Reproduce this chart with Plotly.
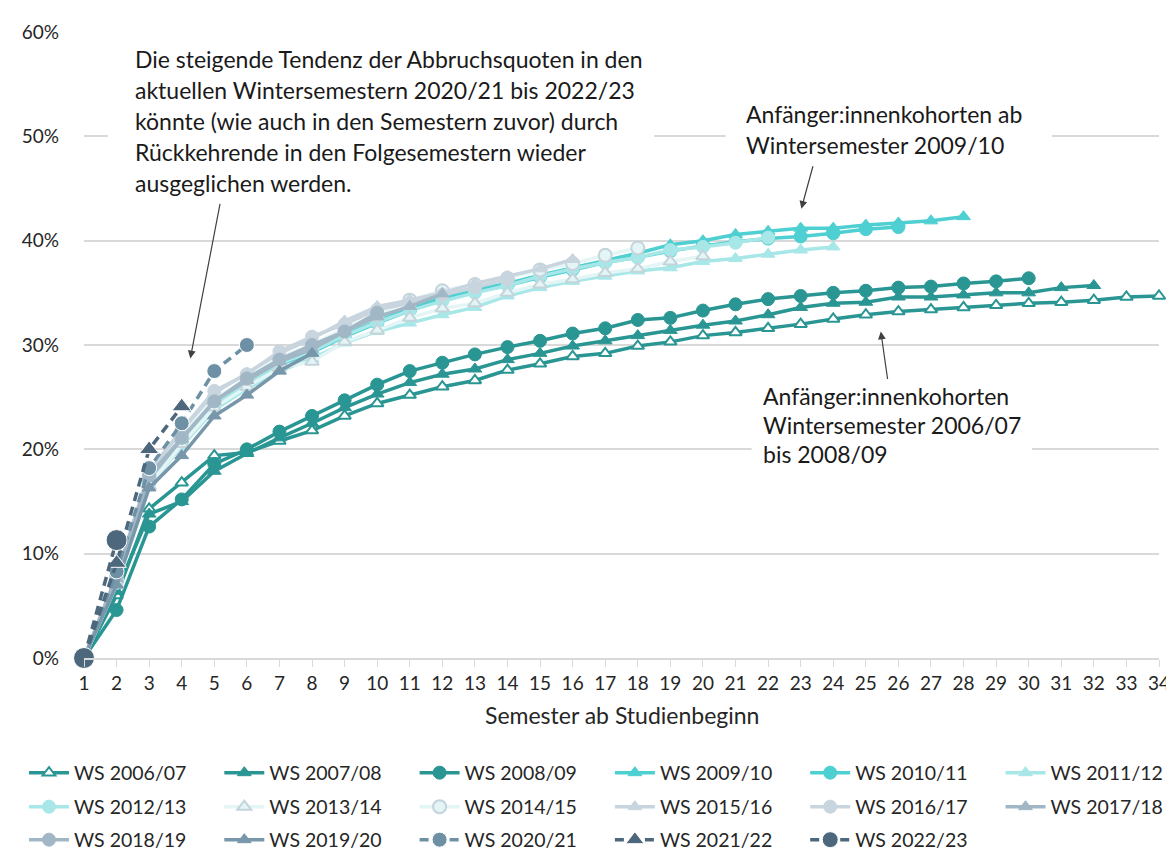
import plotly.graph_objects as go

semester = list(range(1, 35))

# Abbruchquoten in % je Semester ab Studienbeginn
ws_2006_07 = [0, 6.0, 14.3, 16.8, 19.4, 19.7, 20.8, 21.8, 23.2, 24.4, 25.2, 26.0, 26.6, 27.6, 28.2, 28.9, 29.2,
              29.9, 30.3, 30.9, 31.2, 31.6, 32.0, 32.5, 32.9, 33.2, 33.4, 33.6, 33.8, 34.0, 34.1, 34.3, 34.6, 34.7]
ws_2007_08 = [0, 6.4, 13.8, 15.0, 17.9, 19.6, 21.1, 22.5, 24.0, 25.3, 26.4, 27.2, 27.7, 28.6, 29.2, 29.9, 30.4,
              30.9, 31.4, 31.9, 32.3, 32.9, 33.6, 34.0, 34.1, 34.6, 34.6, 34.8, 35.0, 35.0, 35.5, 35.7]
ws_2008_09 = [0, 4.6, 12.6, 15.2, 18.6, 20.0, 21.7, 23.2, 24.7, 26.2, 27.5, 28.3, 29.1, 29.8, 30.4, 31.1, 31.6,
              32.4, 32.6, 33.3, 33.9, 34.4, 34.7, 35.0, 35.2, 35.5, 35.6, 35.9, 36.1, 36.4]
ws_2009_10 = [0, 7.5, 17.0, 21.0, 24.5, 26.5, 28.3, 29.5, 31.0, 32.3, 33.5, 34.5, 35.3, 35.9, 36.7, 37.4, 38.1,
              38.8, 39.6, 40.0, 40.6, 40.9, 41.2, 41.2, 41.5, 41.7, 41.9, 42.3]
ws_2010_11 = [0, 7.3, 16.8, 20.8, 24.3, 26.3, 28.1, 29.3, 30.8, 32.1, 33.3, 34.3, 35.1, 35.7, 36.5, 37.2, 37.9,
              38.4, 39.0, 39.5, 39.9, 40.2, 40.4, 40.7, 41.1, 41.3]
ws_2011_12 = [0, 7.0, 16.5, 20.3, 23.8, 25.8, 27.5, 28.7, 30.2, 31.3, 32.1, 32.9, 33.6, 34.7, 35.5, 36.1, 36.6,
              37.1, 37.4, 38.0, 38.3, 38.7, 39.1, 39.4]
ws_2012_13 = [0, 7.2, 16.9, 20.9, 24.4, 26.4, 28.2, 29.4, 30.9, 32.2, 33.3, 34.2, 35.0, 35.7, 36.6, 37.3, 37.9,
              38.4, 39.1, 39.4, 39.8, 40.3]
ws_2013_14 = [0, 7.0, 16.5, 20.5, 24.0, 26.0, 27.8, 28.4, 30.3, 31.4, 32.6, 33.5, 34.0, 35.0, 35.8, 36.3, 36.9,
              37.3, 38.0, 38.5]
ws_2014_15 = [0, 7.5, 17.3, 21.3, 24.8, 26.8, 28.8, 30.0, 31.6, 32.9, 34.3, 35.2, 35.8, 36.4, 37.2, 37.8, 38.6, 39.3]
ws_2015_16 = [0, 7.8, 17.8, 21.8, 25.4, 27.3, 29.2, 30.6, 32.3, 33.7, 34.3, 35.0, 35.9, 36.6, 37.3, 38.2]
ws_2016_17 = [0, 7.8, 17.9, 21.9, 25.6, 27.2, 29.4, 30.8, 32.0, 33.4, 34.0, 34.8, 35.5, 36.3]
ws_2017_18 = [0, 7.6, 17.2, 21.0, 24.6, 26.6, 28.4, 29.6, 31.3, 32.7, 33.7, 34.9]
ws_2018_19 = [0, 7.9, 17.5, 21.1, 24.6, 26.8, 28.6, 30.0, 31.3, 33.1]
ws_2019_20 = [0, 7.0, 16.3, 19.4, 23.2, 25.2, 27.5, 29.2]
ws_2020_21 = [0, 8.3, 18.2, 22.5, 27.5, 30.0]
ws_2021_22 = [0, 9.1, 20.0, 24.1]
ws_2022_23 = [0, 11.3]

y_ticks = [0, 10, 20, 30, 40, 50, 60]
y_tick_labels = ["0%", "10%", "20%", "30%", "40%", "50%", "60%"]

teal = "#2A9694"
turq = "#4ECFD1"
light_turq = "#A8E7E8"
pale = "#E4F5F6"
pale_edge = "#C5D3DB"
light_grey = "#C8D5DE"
grey_blue = "#A2B7C6"
slate = "#7897AB"
slate_dash = "#6D90A4"
dark_slate = "#4D687C"

# name, values, line colour, marker symbol, marker fill, marker edge, marker size, dash
series = [
    ("WS 2006/07", ws_2006_07, teal, "triangle-up", "white", teal, 11, "solid"),
    ("WS 2007/08", ws_2007_08, teal, "triangle-up", teal, teal, 12, "solid"),
    ("WS 2008/09", ws_2008_09, teal, "circle", teal, teal, 13, "solid"),
    ("WS 2009/10", ws_2009_10, turq, "triangle-up", turq, turq, 12, "solid"),
    ("WS 2010/11", ws_2010_11, turq, "circle", turq, turq, 13, "solid"),
    ("WS 2011/12", ws_2011_12, light_turq, "triangle-up", light_turq, light_turq, 12, "solid"),
    ("WS 2012/13", ws_2012_13, light_turq, "circle", light_turq, light_turq, 13, "solid"),
    ("WS 2013/14", ws_2013_14, pale, "triangle-up", pale, pale_edge, 12, "solid"),
    ("WS 2014/15", ws_2014_15, pale, "circle", pale, pale_edge, 13, "solid"),
    ("WS 2015/16", ws_2015_16, light_grey, "triangle-up", light_grey, light_grey, 12, "solid"),
    ("WS 2016/17", ws_2016_17, light_grey, "circle", light_grey, light_grey, 13, "solid"),
    ("WS 2017/18", ws_2017_18, grey_blue, "triangle-up", grey_blue, grey_blue, 12, "solid"),
    ("WS 2018/19", ws_2018_19, grey_blue, "circle", grey_blue, grey_blue, 13, "solid"),
    ("WS 2019/20", ws_2019_20, slate, "triangle-up", slate, slate, 12, "solid"),
    ("WS 2020/21", ws_2020_21, slate_dash, "circle", slate_dash, "white", 15, "9px,6px"),
    ("WS 2021/22", ws_2021_22, dark_slate, "triangle-up", dark_slate, "white", 17, "9px,6px"),
    ("WS 2022/23", ws_2022_23, dark_slate, "circle", dark_slate, "white", 21, "9px,6px"),
]

FONT = "Lato"
W, H = 1174, 849

# one legend per entry, laid out as a 6-column grid like the original
legend_ids = ["legend"] + [f"legend{i}" for i in range(2, len(series) + 1)]
legend_rows = [765, 799, 832]
legend_col_step = 195.3

fig = go.Figure()
for i, (name, vals, col, sym, fill, edge, size, dash) in enumerate(series):
    fig.add_trace(go.Scatter(
        x=semester[:len(vals)], y=vals, name=name, mode="lines+markers",
        line=dict(color=col, width=3.5, dash=dash),
        marker=dict(symbol=sym, color=fill, size=size,
                    line=dict(color=edge, width=2 if fill == "white" or edge == pale_edge else 1)),
        cliponaxis=False, legend=legend_ids[i],
    ))

legends = {}
for i, lid in enumerate(legend_ids):
    legends[lid] = dict(
        orientation="h", xref="container", yref="container",
        x=(16 + (i % 6) * legend_col_step) / W, y=1 - legend_rows[i // 6] / H,
        xanchor="left", yanchor="middle", itemwidth=40, bgcolor="rgba(0,0,0,0)",
        font=dict(family=FONT, size=19.5, color="#262626"),
    )

# plot area in pixels: x 76..1158, y 23..650
L, R, T, B = 76, 1158, 23, 650


def px_x(x):
    return (x - L) / (R - L)


def px_y(y):
    return (B - y) / (B - T)


boxes = [(100, 650, 28, 192), (722, 1050, 86, 152), (748, 1030, 372, 460)]
for x0, x1, y0, y1 in boxes:
    fig.add_shape(type="rect", xref="paper", yref="paper", x0=px_x(x0), x1=px_x(x1),
                  y0=px_y(y1), y1=px_y(y0), fillcolor="white", line_width=0, layer="above")

texts = [
    (125, [50, 81, 112, 143, 174], ["Die steigende Tendenz der Abbruchsquoten in den",
                                    "aktuellen Wintersemestern 2020/21 bis 2022/23",
                                    "könnte (wie auch in den Semestern zuvor) durch",
                                    "Rückkehrende in den Folgesemestern wieder",
                                    "ausgeglichen werden."]),
    (740, [105, 136], ["Anfänger:innenkohorten ab", "Wintersemester 2009/10"]),
    (757, [388, 417, 446], ["Anfänger:innenkohorten", "Wintersemester 2006/07", "bis 2008/09"]),
]
for x0, ys, lines in texts:
    for yy, txt in zip(ys, lines):
        fig.add_annotation(xref="paper", yref="paper", x=px_x(x0), y=px_y(yy), text=txt,
                           showarrow=False, xanchor="left", yanchor="middle",
                           font=dict(family=FONT, size=23, color="#1a1a1a"))

arrows = [((183, 350), (213, 194)), ((798, 200), (810, 156)), ((878, 323), (885, 372))]
for (hx, hy), (tx, ty) in arrows:
    fig.add_annotation(xref="paper", yref="paper", x=px_x(hx), y=px_y(hy), text="",
                       showarrow=True, axref="pixel", ayref="pixel", ax=tx - hx, ay=ty - hy,
                       arrowhead=2, arrowsize=1.3, arrowwidth=1.2, arrowcolor="#404040")

# x-axis title
fig.add_annotation(xref="paper", yref="paper", x=0.5, y=px_y(707), text="Semester ab Studienbeginn",
                   showarrow=False, xanchor="center", yanchor="middle",
                   font=dict(family=FONT, size=23, color="#262626"))

fig.update_layout(
    width=W, height=H,
    margin=dict(l=L, r=W - R, t=T, b=H - B),
    plot_bgcolor="white", paper_bgcolor="white",
    font=dict(family=FONT, size=19, color="#262626"),
    showlegend=True,
    **legends,
)
fig.update_xaxes(range=[1, 34], tickvals=semester, ticks="outside", ticklen=7, tickcolor="#D9D9D9",
                 showline=True, linecolor="#D9D9D9", linewidth=1.5, showgrid=False, zeroline=False,
                 tickfont=dict(family=FONT, size=19, color="#262626"))
fig.update_yaxes(range=[0, 60], tickvals=y_ticks, ticktext=y_tick_labels, showgrid=True, gridcolor="#D9D9D9",
                 gridwidth=1.5, zeroline=False, showline=False, ticklabelstandoff=24,
                 tickfont=dict(family=FONT, size=19, color="#262626"))

fig.write_html("out.html")
